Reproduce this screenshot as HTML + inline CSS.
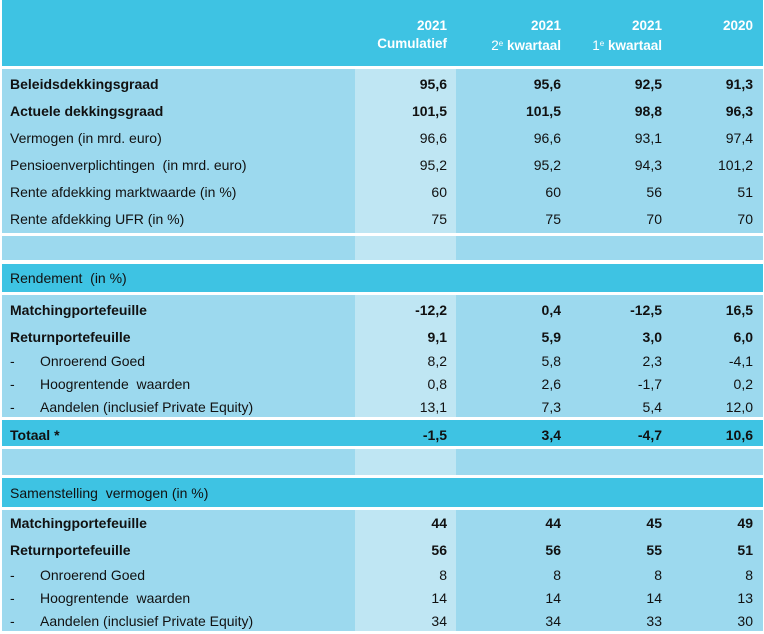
<!DOCTYPE html>
<html><head><meta charset="utf-8"><style>
body{margin:0;width:764px;height:634px;background:#fff;position:relative;overflow:hidden;font-family:"Liberation Sans",Arial,sans-serif;font-size:14px;color:#111}
.b{position:absolute;left:2px;width:761px;background:#9cd9ee}
.c{position:absolute;left:2px;width:761px;background:#3ec3e3}
.s{position:absolute;left:355px;width:101px;background:#bfe6f3}
.r{position:absolute;left:0;width:764px;height:20px;line-height:20px}
.r span{position:absolute;white-space:nowrap}
.l{left:10px}.d{left:10px}.i{left:40px}
.n1{right:317px}.n2{right:203px}.n3{right:102px}.n4{right:11px}
.bo{font-weight:bold}
.h{position:absolute;color:#fff;font-weight:bold;text-align:right;line-height:18px;font-size:13.5px}
sup{font-size:8px;vertical-align:4px;font-weight:normal}
</style></head><body>
<div class="c" style="top:0;height:66px"></div>
<div class="h" style="right:317px;top:17px">2021<br>Cumulatief</div>
<div class="h" style="right:203px;top:17px">2021<br><span style="font-weight:normal">2<sup>e</sup></span> kwartaal</div>
<div class="h" style="right:102px;top:17px">2021<br><span style="font-weight:normal">1<sup>e</sup></span> kwartaal</div>
<div class="h" style="right:11px;top:17px">2020</div>

<div class="b" style="top:69px;height:164px"></div>
<div class="b" style="top:236px;height:24px"></div>
<div class="c" style="top:264px;height:28px"></div>
<div class="b" style="top:295px;height:122px"></div>
<div class="c" style="top:420px;height:26px"></div>
<div class="b" style="top:449px;height:26px"></div>
<div class="c" style="top:478px;height:29px"></div>
<div class="b" style="top:510px;height:121px"></div>
<div class="s" style="top:69px;height:164px"></div>
<div class="s" style="top:236px;height:24px"></div>
<div class="s" style="top:295px;height:122px"></div>
<div class="s" style="top:449px;height:26px"></div>
<div class="s" style="top:510px;height:121px"></div>

<div class="r bo" style="top:74px"><span class="l">Beleidsdekkingsgraad</span><span class="n1">95,6</span><span class="n2">95,6</span><span class="n3">92,5</span><span class="n4">91,3</span></div>
<div class="r bo" style="top:101px"><span class="l">Actuele dekkingsgraad</span><span class="n1">101,5</span><span class="n2">101,5</span><span class="n3">98,8</span><span class="n4">96,3</span></div>
<div class="r" style="top:128px"><span class="l">Vermogen (in mrd. euro)</span><span class="n1">96,6</span><span class="n2">96,6</span><span class="n3">93,1</span><span class="n4">97,4</span></div>
<div class="r" style="top:155px"><span class="l">Pensioenverplichtingen&nbsp; (in mrd. euro)</span><span class="n1">95,2</span><span class="n2">95,2</span><span class="n3">94,3</span><span class="n4">101,2</span></div>
<div class="r" style="top:182px"><span class="l">Rente afdekking marktwaarde (in %)</span><span class="n1">60</span><span class="n2">60</span><span class="n3">56</span><span class="n4">51</span></div>
<div class="r" style="top:209px"><span class="l">Rente afdekking UFR (in %)</span><span class="n1">75</span><span class="n2">75</span><span class="n3">70</span><span class="n4">70</span></div>

<div class="r" style="top:268px"><span class="l">Rendement&nbsp; (in %)</span></div>
<div class="r bo" style="top:300px"><span class="l">Matchingportefeuille</span><span class="n1">-12,2</span><span class="n2">0,4</span><span class="n3">-12,5</span><span class="n4">16,5</span></div>
<div class="r bo" style="top:327px"><span class="l">Returnportefeuille</span><span class="n1">9,1</span><span class="n2">5,9</span><span class="n3">3,0</span><span class="n4">6,0</span></div>
<div class="r" style="top:351px"><span class="d">-</span><span class="i">Onroerend Goed</span><span class="n1">8,2</span><span class="n2">5,8</span><span class="n3">2,3</span><span class="n4">-4,1</span></div>
<div class="r" style="top:374px"><span class="d">-</span><span class="i">Hoogrentende&nbsp; waarden</span><span class="n1">0,8</span><span class="n2">2,6</span><span class="n3">-1,7</span><span class="n4">0,2</span></div>
<div class="r" style="top:397px"><span class="d">-</span><span class="i">Aandelen (inclusief Private Equity)</span><span class="n1">13,1</span><span class="n2">7,3</span><span class="n3">5,4</span><span class="n4">12,0</span></div>
<div class="r bo" style="top:425px"><span class="l">Totaal *</span><span class="n1">-1,5</span><span class="n2">3,4</span><span class="n3">-4,7</span><span class="n4">10,6</span></div>

<div class="r" style="top:483px"><span class="l">Samenstelling&nbsp; vermogen (in %)</span></div>
<div class="r bo" style="top:513px"><span class="l">Matchingportefeuille</span><span class="n1">44</span><span class="n2">44</span><span class="n3">45</span><span class="n4">49</span></div>
<div class="r bo" style="top:540px"><span class="l">Returnportefeuille</span><span class="n1">56</span><span class="n2">56</span><span class="n3">55</span><span class="n4">51</span></div>
<div class="r" style="top:565px"><span class="d">-</span><span class="i">Onroerend Goed</span><span class="n1">8</span><span class="n2">8</span><span class="n3">8</span><span class="n4">8</span></div>
<div class="r" style="top:588px"><span class="d">-</span><span class="i">Hoogrentende&nbsp; waarden</span><span class="n1">14</span><span class="n2">14</span><span class="n3">14</span><span class="n4">13</span></div>
<div class="r" style="top:611px"><span class="d">-</span><span class="i">Aandelen (inclusief Private Equity)</span><span class="n1">34</span><span class="n2">34</span><span class="n3">33</span><span class="n4">30</span></div>
</body></html>
